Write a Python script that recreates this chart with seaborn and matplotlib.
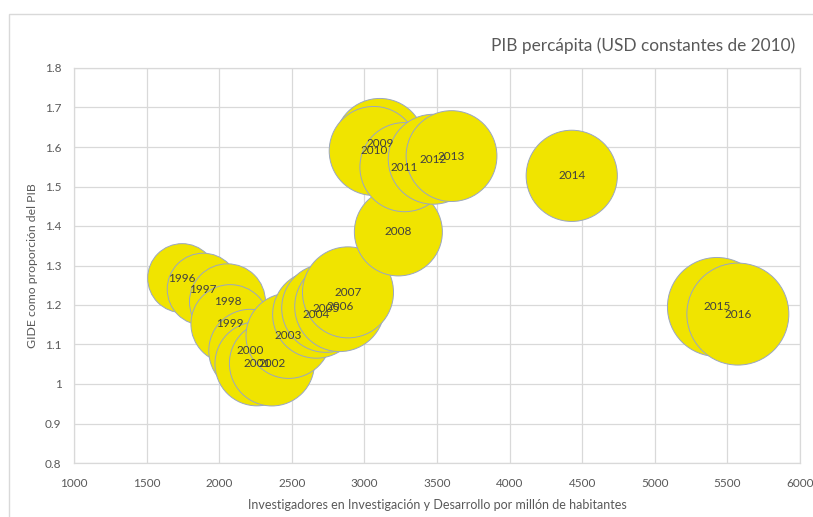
import matplotlib
matplotlib.use("Agg")
import matplotlib.pyplot as plt
import seaborn as sns
import pandas as pd
from matplotlib.patches import Rectangle

years = list(range(1996, 2017))
researchers = [1745, 1890, 2057, 2076, 2214, 2260, 2363, 2478, 2669, 2735, 2830, 2887,
               3234, 3106, 3064, 3276, 3474, 3600, 4428, 5428, 5572]
gerd = [1.268, 1.240, 1.208, 1.152, 1.084, 1.051, 1.052, 1.122, 1.176, 1.192, 1.196, 1.232,
        1.385, 1.609, 1.590, 1.549, 1.569, 1.577, 1.527, 1.195, 1.177]
gdp_pc = [10070, 10960, 12220, 13070, 14570, 14920, 15280, 15350, 16160, 16530, 17130, 17520,
          16380, 17130, 16750, 16800, 17100, 17450, 17600, 20730, 22000]

title = "PIB percápita (USD constantes de 2010)"
xlabel = "Investigadores en Investigación y Desarrollo por millón de habitantes"
ylabel = "GIDE como proporción del PIB"

df = pd.DataFrame({"year": years, "res": researchers, "gerd": gerd, "gdp": gdp_pc})

sns.set_theme(style="white")
plt.rcParams["font.family"] = ["Lato", "DejaVu Sans"]

fig = plt.figure(figsize=(8.13, 5.17), dpi=100)
ax = fig.add_axes([74 / 813, 1 - 463 / 517, (800 - 74) / 813, (463 - 68) / 517])

# chart area border
fig.patches.append(Rectangle((9 / 813, -0.1), 1.2, 1 - 14 / 517 + 0.1, transform=fig.transFigure,
                             fill=False, edgecolor="#d9d9d9", linewidth=1.0))

k = 0.2451
sns.scatterplot(data=df, x="res", y="gerd", size="gdp",
                sizes=(min(gdp_pc) * k, max(gdp_pc) * k),
                color="#F0E400", edgecolor="#9aa6c2", linewidth=0.7, alpha=1,
                legend=False, ax=ax, zorder=3)

for yr, xv, yv in zip(years, researchers, gerd):
    ax.text(xv, yv, str(yr), ha="center", va="center", fontsize=8.5, color="#404040", zorder=4)

ax.set_xlim(1000, 6000)
ax.set_ylim(0.8, 1.8)
ax.set_xticks(range(1000, 6001, 500))
ax.set_yticks([0.8 + 0.1 * i for i in range(11)])
ax.set_yticklabels([f"{0.8 + 0.1 * i:g}" for i in range(11)])
ax.grid(True, color="#d9d9d9", linewidth=0.9, zorder=0)
ax.set_axisbelow(True)
for s in ax.spines.values():
    s.set_color("#d9d9d9")
    s.set_linewidth(0.9)
ax.tick_params(axis="x", labelsize=8.5, colors="#595959", length=0, pad=11)
ax.tick_params(axis="y", labelsize=8.5, colors="#595959", length=0, pad=9)

ax.set_xlabel(xlabel, fontsize=9.0, color="#595959", labelpad=7)
ax.set_ylabel(ylabel, fontsize=8.8, color="#595959", labelpad=5)
fig.text(795 / 813, 1 - 46 / 517, title, ha="right", va="center", fontsize=12.4, color="#595959")

fig.savefig("out.png", dpi=100)
